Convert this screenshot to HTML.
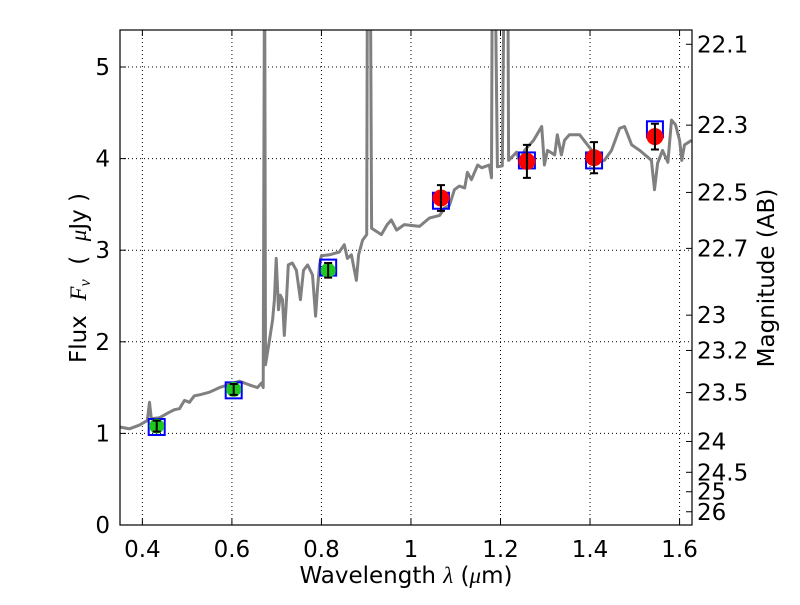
<!DOCTYPE html>
<html><head><meta charset="utf-8"><style>
html,body{margin:0;padding:0;background:#fff;}
svg text{font-family:"DejaVu Sans","Liberation Sans",sans-serif;}
</style></head><body>
<svg id="chart" width="800" height="600" viewBox="0 0 800 600" xmlns="http://www.w3.org/2000/svg">
<rect width="800" height="600" fill="#fff"/>
<defs><clipPath id="clip"><rect x="120" y="30" width="572" height="495"/></clipPath></defs>
<g id="grid"></g>
<g id="spec" clip-path="url(#clip)"></g>
<g id="marks"></g>
<rect x="120" y="30" width="572" height="495" fill="none" stroke="#000" stroke-width="1.2"/>
<g id="axes"></g>
<text x="406" y="583" font-size="23" text-anchor="middle">Wavelength  <tspan font-style="italic" font-family="Liberation Serif">λ</tspan> (<tspan font-style="italic" font-family="Liberation Serif">μ</tspan>m)</text>
<text transform="translate(86,278) rotate(-90)" font-size="23" text-anchor="middle" xml:space="preserve">Flux  <tspan font-style="italic" font-family="Liberation Serif">F<tspan font-size="16" dy="4">ν</tspan></tspan><tspan dy="-4">  (  </tspan><tspan font-style="italic" font-family="Liberation Serif">μ</tspan>Jy )</text>
<text transform="translate(774,278) rotate(-90)" font-size="23" text-anchor="middle">Magnitude (AB)</text>
</svg>
<script>
const specLam=[0.349,0.371,0.393,0.411,0.416,0.420,0.438,0.460,0.472,0.483,0.494,0.505,0.516,0.527,0.550,0.572,0.617,0.639,0.657,0.666,0.670,0.673,0.675,0.684,0.691,0.695,0.699,0.704,0.708,0.713,0.717,0.722,0.726,0.735,0.744,0.753,0.760,0.769,0.780,0.787,0.791,0.796,0.800,0.818,0.840,0.851,0.858,0.867,0.878,0.883,0.892,0.901,0.903,0.909,0.912,0.934,0.947,0.956,0.968,0.985,1.019,1.041,1.064,1.075,1.086,1.097,1.108,1.120,1.126,1.135,1.149,1.158,1.175,1.180,1.182,1.187,1.193,1.204,1.209,1.216,1.218,1.236,1.242,1.254,1.274,1.292,1.298,1.305,1.321,1.327,1.336,1.343,1.354,1.377,1.399,1.421,1.432,1.448,1.466,1.477,1.493,1.511,1.528,1.537,1.544,1.551,1.562,1.574,1.582,1.591,1.600,1.605,1.611,1.627];
const specFlux=[1.07,1.05,1.09,1.14,1.34,1.16,1.17,1.23,1.26,1.27,1.36,1.34,1.41,1.42,1.45,1.50,1.57,1.53,1.50,1.55,1.50,6.5,1.75,2.02,2.24,2.46,2.91,2.35,2.51,2.46,2.07,2.46,2.84,2.86,2.78,2.46,2.78,2.84,2.73,2.28,2.57,2.84,2.94,2.95,2.98,3.06,2.91,2.95,2.67,2.95,3.11,3.17,6.5,6.5,3.24,3.17,3.28,3.33,3.22,3.28,3.26,3.35,3.38,3.46,3.49,3.66,3.70,3.68,3.85,3.77,3.93,3.90,3.93,3.79,6.5,6.5,3.91,3.92,6.5,6.5,3.98,4.07,3.98,4.09,4.20,4.35,3.93,4.09,4.04,4.26,4.04,4.20,4.26,4.26,4.12,3.98,3.98,4.09,4.33,4.35,4.15,4.09,4.02,3.98,3.66,3.95,4.09,3.96,4.42,4.37,4.20,3.98,4.15,4.20];
const photLam=[0.432,0.604,0.815,1.067,1.259,1.409,1.545];
const photFlux=[1.08,1.48,2.78,3.57,3.97,4.01,4.24];
const photErr=[0.06,0.06,0.08,0.14,0.18,0.17,0.14];
const photColor=["green","green","green","red","red","red","red"];
const modelFlux=[1.07,1.47,2.81,3.54,3.98,3.98,4.32];
const xTicks=[0.4,0.6,0.8,1.0,1.2,1.4,1.6];
const xTickLabels=["0.4","0.6","0.8","1","1.2","1.4","1.6"];
const yTicks=[0,1,2,3,4,5];
const magTicks=[22.1,22.3,22.5,22.7,23,23.2,23.5,24,24.5,25,26];
const magLabels=["22.1","22.3","22.5","22.7","23","23.2","23.5","24","24.5","25","26"];

const X0=120,X1=692,Y0=525,Y1=30,LMIN=0.35,LMAX=1.6278,FMIN=0,FMAX=5.404;
const sx=l=>X0+(l-LMIN)/(LMAX-LMIN)*(X1-X0);
const sy=f=>Y0-(f-FMIN)/(FMAX-FMIN)*(Y0-Y1);
const NS="http://www.w3.org/2000/svg";
function mk(tag,attrs,parent){const e=document.createElementNS(NS,tag);for(const k in attrs)e.setAttribute(k,attrs[k]);parent.appendChild(e);return e;}
const grid=document.getElementById('grid'),axes=document.getElementById('axes'),spec=document.getElementById('spec'),marks=document.getElementById('marks');

xTicks.forEach((t,i)=>{const x=sx(t);
 let g=mk('line',{x1:x,x2:x,y1:Y1,y2:Y0,stroke:'#000','stroke-width':1,'stroke-dasharray':'1,3'},grid);
 
 let a=mk('line',{x1:x,x2:x,y1:Y0,y2:Y0-6,stroke:'#000'},axes);
 let b=mk('line',{x1:x,x2:x,y1:Y1,y2:Y1+6,stroke:'#000'},axes);
 let tx=mk('text',{x:x,y:557,'font-size':23,'text-anchor':'middle'},axes);tx.textContent=xTickLabels[i];
 
});
yTicks.forEach(t=>{const y=sy(t);
 let g=mk('line',{x1:X0,x2:X1,y1:y,y2:y,stroke:'#000','stroke-width':1,'stroke-dasharray':'1,3'},grid);
 
 let a=mk('line',{x1:X0,x2:X0+6,y1:y,y2:y,stroke:'#000'},axes);
 let tx=mk('text',{x:110,y:y+8,'font-size':23,'text-anchor':'end'},axes);tx.textContent=String(t);
 
});
magTicks.forEach((m,i)=>{const y=sy(Math.pow(10,(23.9-m)/2.5));
 let a=mk('line',{x1:X1,x2:X1-6,y1:y,y2:y,stroke:'#000'},axes);
 let tx=mk('text',{x:697,y:y+8,'font-size':23},axes);tx.textContent=magLabels[i];
 
});

let d=specLam.map((l,i)=>(i?'L':'M')+sx(l).toFixed(1)+','+sy(specFlux[i]).toFixed(1)).join(' ');
let p=mk('path',{d:d,fill:'none',stroke:'#808080','stroke-width':3,'stroke-linejoin':'round'},spec);


photLam.forEach((l,i)=>{const x=sx(l);
 const ym=sy(modelFlux[i]);
 let r=mk('rect',{x:x-8,y:ym-8,width:16,height:16,fill:'none',stroke:'#0000ff','stroke-width':2},marks);
 
 const y=sy(photFlux[i]);
 const col=photColor[i]==='green'?'#1ec81e':'#ff0000';
 let c=mk('circle',{cx:x,cy:y,r:photColor[i]==='green'?7.5:8.5,fill:col},marks);
 
 const yt=sy(photFlux[i]+photErr[i]),yb=sy(photFlux[i]-photErr[i]);
 let e=mk('path',{d:`M${x},${yt}L${x},${yb}M${x-4},${yt}L${x+4},${yt}M${x-4},${yb}L${x+4},${yb}`,stroke:'#000','stroke-width':2,fill:'none'},marks);
 
});
</script>
</body></html>
